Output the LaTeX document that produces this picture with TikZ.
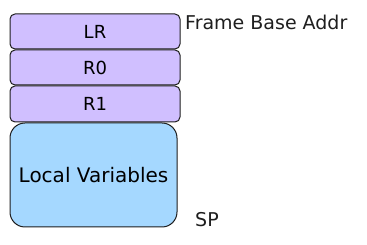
\documentclass[tikz,border=0pt]{standalone}
\usepackage{fontspec}
\setmainfont{DejaVu Sans}
\definecolor{regviolet}{HTML}{D0BFFF}
\definecolor{locblue}{HTML}{A5D8FF}
\definecolor{ink}{HTML}{1E1E1E}
\begin{document}
\begin{tikzpicture}[x=1pt,y=-1pt,
        slot/.style={draw=ink,line width=1pt,fill=regviolet,rounded corners=5pt,
            minimum width=170pt,inner sep=0pt,font=\fontsize{18}{20}\selectfont},
        locals/.style={draw=ink,line width=1pt,fill=locblue,rounded corners=15pt,
            minimum width=167pt,minimum height=104pt,inner sep=0pt,font=\fontsize{20}{22}\selectfont},
        tag/.style={anchor=west,inner sep=0pt,text=ink,font=\fontsize{19}{21}\selectfont}]
    \useasboundingbox (0,0) rectangle (367,245);
    % saved registers, top of the frame
    \node[slot,minimum height=35pt] (lr) at (95,31.5) {LR};
    \node[slot,minimum height=35pt] (r0) at (95,67.5) {R0};
    \node[slot,minimum height=36pt] (r1) at (95,104) {R1};
    % locals below them
    \node[locals] (loc) at (93.5,175) {Local Variables};
    \node[tag] (fba) at (185,22) {Frame Base Addr};
    \node[tag] (sp) at (195,220) {SP};
\end{tikzpicture}
\end{document}
